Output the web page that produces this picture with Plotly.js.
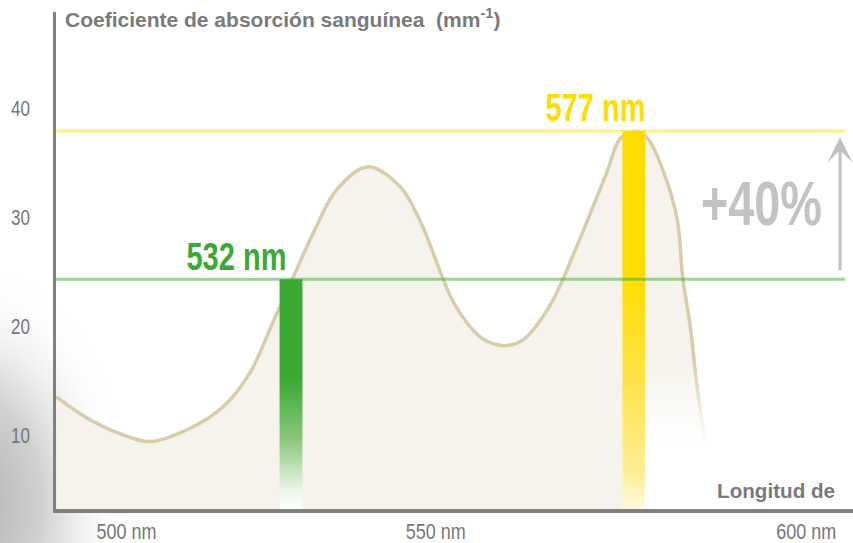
<!DOCTYPE html>
<html>
<head>
<meta charset="utf-8">
<script src="https://cdn.plot.ly/plotly-3.0.1.min.js"></script>
<style>html,body{margin:0;padding:0;background:#fff;}#chart{width:853px;height:543px;}</style>
</head>
<body>
<div id="chart"></div>
<script>
// ---- Data ----
const wavelengthNm = [501.2, 505.6, 510.0, 513.5, 518.7, 523.1, 526.6, 529.6, 532.3, 534.9, 538.0, 542.0, 546.3, 548.9, 550.6, 551.8, 553.3, 555.1, 557.2, 559.8, 562.4, 564.7, 566.4, 567.7, 568.6, 570.8, 573.5, 575.2, 577.1, 578.7, 580.8, 582.7, 583.4, 584.4, 585.3, 586.6, 587.6];
const absorption   = [13.5, 11.4, 10.0, 9.4, 10.6, 12.6, 15.7, 20.3, 24.5, 28.5, 32.5, 34.6, 32.8, 29.7, 26.8, 24.6, 22.2, 20.3, 18.8, 18.2, 18.7, 20.5, 22.4, 24.3, 25.8, 29.5, 34.2, 37.2, 37.8, 37.3, 34.3, 29.7, 24.5, 19.9, 14.4, 8.3, 5.0];
const laserNm      = [532, 577];
const laserAbs     = [24.3, 37.9];
const laserLabels  = ['532 nm', '577 nm'];
const yTickVals    = [10, 20, 30, 40];
const xTickVals    = [510.4, 551.0, 599.6];
const xTickText    = ['500 nm', '550 nm', '600 nm'];
const gainLabel    = '+40%';
const yTitle       = 'Coeficiente de absorción sanguínea  (mm<sup>-1</sup>)';
const xTitle       = 'Longitud de';

// ---- Styling ----
const FONT = '"Liberation Sans", Arial, sans-serif';
const xRange = [501.16, 605.75];
const yRange = [3.21, 48.81];
const barW = 3.0;
const lineEnd = 604.7;
const green = '#3aaa35', yellow = '#ffdd00';

const traces = [];

// absorption curve
traces.push({
  x: wavelengthNm, y: absorption, type: 'scatter', mode: 'lines',
  line: {color: '#d9ccab', width: 3.5, shape: 'spline', smoothing: 1.0},
  fill: 'tozeroy', fillcolor: '#f6f3ec', hoverinfo: 'skip', showlegend: false
});

// laser bars (gradient filled)
const barScales = [
  [[0, 'rgba(255,255,255,1)'], [0.08, 'rgba(235,246,233,1)'], [0.3, 'rgba(140,200,125,1)'], [0.56, green], [1, green]],
  [[0, 'rgba(255,250,225,1)'], [0.1, 'rgba(255,238,150,1)'], [0.35, 'rgba(255,227,70,1)'], [0.62, yellow], [1, yellow]]
];
laserNm.forEach((nm, i) => {
  const x0 = nm - barW / 2, x1 = nm + barW / 2;
  traces.push({
    x: [x0, x1, x1, x0, x0], y: [yRange[0], yRange[0], laserAbs[i], laserAbs[i], yRange[0]],
    type: 'scatter', mode: 'lines', line: {width: 0}, fill: 'toself',
    fillgradient: {type: 'vertical', colorscale: barScales[i], start: yRange[0], stop: laserAbs[i]},
    hoverinfo: 'skip', showlegend: false
  });
});

// fade-out of the curve tail
const fx0 = laserNm[1] + barW / 2, fx1 = 592;
traces.push({
  x: [fx0, fx1, fx1, fx0, fx0], y: [yRange[0], yRange[0], 17, 17, yRange[0]],
  type: 'scatter', mode: 'lines', line: {width: 0}, fill: 'toself',
  fillgradient: {type: 'vertical', colorscale: [[0, 'rgba(255,255,255,1)'], [0.45, 'rgba(255,255,255,1)'], [1, 'rgba(255,255,255,0)']], start: yRange[0], stop: 17},
  hoverinfo: 'skip', showlegend: false
});

// reference level lines
const levelColors = ['rgba(58,170,53,0.5)', 'rgba(255,221,0,0.5)'];
[1, 0].forEach(i => {
  traces.push({
    x: [xRange[0], lineEnd], y: [laserAbs[i], laserAbs[i]], type: 'scatter', mode: 'lines',
    line: {color: levelColors[i], width: 3}, hoverinfo: 'skip', showlegend: false
  });
});

const bgSvg = '<svg xmlns="http://www.w3.org/2000/svg" width="853" height="543" viewBox="0 0 853 543">' +
  '<defs><radialGradient id="g" gradientUnits="userSpaceOnUse" cx="0" cy="0" r="1" gradientTransform="translate(-30 505) scale(160 240)">' +
  '<stop offset="0" stop-color="#b3b3b3"/><stop offset="0.45" stop-color="#d0d0d0"/><stop offset="0.75" stop-color="#eeeeee" stop-opacity="0.6"/><stop offset="1" stop-color="#ffffff" stop-opacity="0"/>' +
  '</radialGradient></defs><rect width="853" height="543" fill="url(#g)"/></svg>';

const L = 56, T = 12, R = 0, B = 34, W = 853, H = 543;
const pw = W - L - R, ph = H - T - B;

const layout = {
  width: W, height: H,
  margin: {l: L, r: R, t: T, b: B, pad: 0},
  paper_bgcolor: '#ffffff', plot_bgcolor: 'rgba(0,0,0,0)',
  showlegend: false,
  font: {family: FONT, color: '#777777'},
  images: [{
    source: 'data:image/svg+xml;charset=utf-8,' + encodeURIComponent(bgSvg),
    xref: 'paper', yref: 'paper', x: -L / pw, y: 1 + T / ph, sizex: W / pw, sizey: H / ph,
    sizing: 'stretch', xanchor: 'left', yanchor: 'top', layer: 'below'
  }],
  xaxis: {
    range: xRange, showgrid: false, zeroline: false, showline: true, linecolor: '#808080', linewidth: 3.5,
    tickvals: xTickVals, ticktext: xTickText, ticks: '', ticklabelstandoff: 0,
    tickfont: {family: FONT, size: 22, color: '#777777'}, fixedrange: true
  },
  yaxis: {
    range: yRange, showgrid: false, zeroline: false, showline: true, linecolor: '#808080', linewidth: 3.5,
    tickvals: yTickVals, ticks: '', ticklabelstandoff: 18,
    tickfont: {family: FONT, size: 22, color: '#777777'}, fixedrange: true
  },
  annotations: [
    {xref: 'paper', yref: 'paper', x: 7 / pw, y: 1 - 6 / ph, xanchor: 'left', yanchor: 'middle', showarrow: false,
     text: '<b>' + yTitle + '</b>', font: {family: FONT, size: 21, color: '#7a7a7a'}},
    {xref: 'paper', yref: 'paper', x: (838 - L) / pw, y: 1 - (490 - T) / ph, xanchor: 'right', yanchor: 'middle', showarrow: false,
     text: '<b>' + xTitle + '</b>', font: {family: FONT, size: 21, color: '#7a7a7a'}},
    {x: 524.9, y: 26.3, xanchor: 'center', yanchor: 'middle', showarrow: false,
     text: '<b>' + laserLabels[0] + '</b>', font: {family: FONT, size: 38, color: green}},
    {x: 571.9, y: 40.0, xanchor: 'center', yanchor: 'middle', showarrow: false,
     text: '<b>' + laserLabels[1] + '</b>', font: {family: FONT, size: 38, color: yellow}},
    {x: 593.8, y: 31.3, xanchor: 'center', yanchor: 'middle', showarrow: false,
     text: '<b>' + gainLabel + '</b>', font: {family: FONT, size: 63, color: '#c2c3c3'}},
    {x: 604.05, y: 37.3, ax: 604.05, ay: 24.95, axref: 'x', ayref: 'y', text: '', showarrow: true,
     arrowhead: 3, arrowsize: 1.4, arrowwidth: 3, arrowcolor: '#bfc1c0', standoff: 0, startstandoff: 0}
  ]
};

// condensed look: squeeze the texts to the widths measured on the reference
const textWidths = {};
textWidths[laserLabels[0]] = 100;
textWidths[laserLabels[1]] = 100;
textWidths[gainLabel] = 121;
textWidths[xTitle] = 118;
xTickText.forEach(t => textWidths[t] = 60);
yTickVals.forEach(v => textWidths[String(v)] = 19);

Plotly.newPlot('chart', traces, layout, {displayModeBar: false, staticPlot: true}).then(gd => {
  gd.querySelectorAll('text').forEach(el => {
    const key = el.textContent.replace(/\s+/g, ' ').trim();
    const w = textWidths[key];
    if (w) {
      el.setAttribute('textLength', w);
      el.setAttribute('lengthAdjust', 'spacingAndGlyphs');
    }
  });
});
</script>
</body>
</html>
